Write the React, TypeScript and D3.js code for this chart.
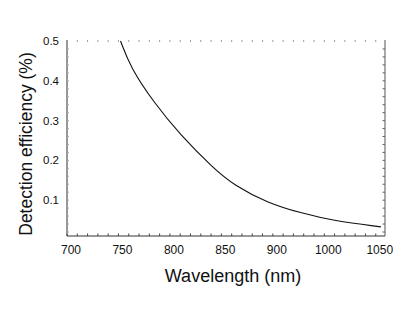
import React from "react";
import * as d3 from "d3";

const wavelength = [752, 762, 784, 810, 842, 862, 895, 927, 959, 1005];
const efficiency = [0.5, 0.432, 0.347, 0.264, 0.181, 0.138, 0.093, 0.068, 0.048, 0.033];
const xTickValues = [700, 750, 800, 850, 900, 950, 1000];
const xTickLabels = ["700", "750", "800", "850", "900", "1000", "1050"];
const yTickValues = [0.1, 0.2, 0.3, 0.4, 0.5];
const yTickLabels = ["0.1", "0.2", "0.3", "0.4", "0.5"];

const W = 415, H = 312;
const left = 67, right = 385, top = 40, bottom = 236;

export default function App() {
  const x = d3.scaleLinear().domain([700, 1009]).range([left, right]);
  const y = d3.scaleLinear().domain([0.01, 0.5]).range([bottom, 41]);
  const pts: [number, number][] = wavelength.map((w, i) => [w, efficiency[i]]);
  const line = d3.line<[number, number]>().x(d => x(d[0])).y(d => y(d[1])).curve(d3.curveBasis);
  const minorX = d3.range(700, 1009, 10);
  const minorY = d3.range(0.02, 0.5, 0.02);
  const font = "Liberation Sans, Arial, Helvetica, sans-serif";
  return (
    <div style={{ position: "absolute", left: 0, top: 0 }}>
      <svg width={W} height={H} style={{ display: "block", background: "#fff" }}>
        <line x1={left} x2={left} y1={top} y2={bottom} stroke="#333" strokeWidth={1} />
        <line x1={left} x2={right} y1={bottom} y2={bottom} stroke="#333" strokeWidth={1} />
        <line x1={right} x2={right} y1={top} y2={bottom} stroke="#555" strokeWidth={1} />
        {minorX.map(v => (
          <line key={"bx" + v} x1={x(v)} x2={x(v)} y1={bottom} y2={bottom - 2.5} stroke="#444" strokeWidth={1} />
        ))}
        {minorX.map(v => (
          <line key={"tx" + v} x1={x(v)} x2={x(v)} y1={top} y2={top + 2} stroke="#999" strokeWidth={1} />
        ))}
        {minorY.map(v => (
          <g key={"my" + v}>
            <line x1={left} x2={left + 2} y1={y(v)} y2={y(v)} stroke="#aaa" strokeWidth={1} />
            <line x1={right} x2={right - 2.5} y1={y(v)} y2={y(v)} stroke="#666" strokeWidth={1} />
          </g>
        ))}
        {yTickValues.map((v, i) => (
          <text key={"yl" + v} x={59} y={y(v)} dy="0.35em" textAnchor="end" fontFamily={font} fontSize={11.5} fill="#111">
            {yTickLabels[i]}
          </text>
        ))}
        {xTickValues.map((v, i) => (
          <text key={"xl" + v} x={x(v) + 4} y={254} textAnchor="middle" fontFamily={font} fontSize={12} fill="#111">
            {xTickLabels[i]}
          </text>
        ))}
        <path d={line(pts) || ""} fill="none" stroke="#111" strokeWidth={1.1} />
        <text x={233} y={282} textAnchor="middle" fontFamily={font} fontSize={18} fill="#111">
          Wavelength (nm)
        </text>
        <text transform="translate(32,144) rotate(-90)" textAnchor="middle" fontFamily={font} fontSize={17.5} fill="#111">
          Detection efficiency (%)
        </text>
      </svg>
    </div>
  );
}
